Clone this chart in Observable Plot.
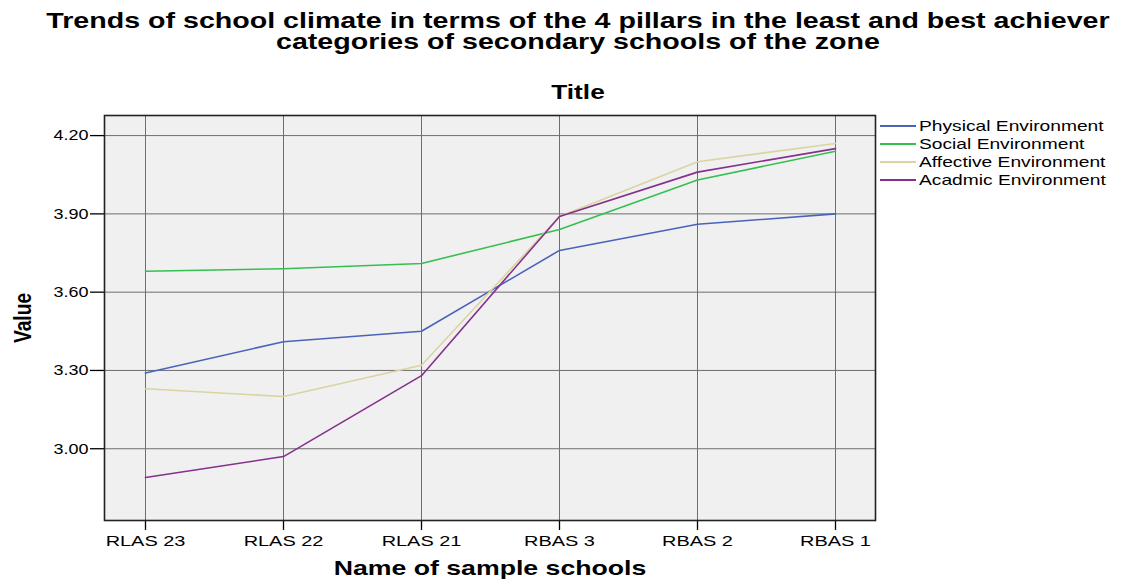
<!DOCTYPE html>
<html>
<head>
<meta charset="utf-8">
<script src="https://cdn.jsdelivr.net/npm/d3@7"></script>
<script src="https://cdn.jsdelivr.net/npm/@observablehq/plot@0.6"></script>
<style>
  html, body { margin: 0; padding: 0; background: #fff; }
  #wrap { position: relative; width: 1124px; height: 580px; overflow: hidden; font-family: "Liberation Sans", Arial, sans-serif; color: #000; }
  .lbl { position: absolute; white-space: nowrap; font-weight: bold; }
  #title1, #title2 { left: 578px; font-size: 22px; line-height: 20px; transform: translate(-50%, -50%) scaleX(1.3); }
  #title1 { top: 21.2px; }
  #title2 { top: 41.7px; }
  #subtitle { left: 578px; top: 92px; font-size: 21px; transform: translate(-50%, -50%) scaleX(1.25); }
  #xlabel { left: 490px; top: 568px; font-size: 21px; line-height: 22px; transform: translate(-50%, -50%) scaleX(1.27); }
  #ylabel { left: 23px; top: 318px; font-size: 24px; transform: translate(-50%, -50%) rotate(-90deg) scaleX(0.8); }
  #chart { position: absolute; left: 0; top: 60px; }
  #legend { position: absolute; left: 880px; top: 117px; font-size: 15px; color: #000; }
  #legend .row { display: flex; align-items: center; height: 17.9px; }
  #legend .sw { width: 36px; height: 2px; margin-right: 3px; }
  #legend .tx { display: inline-block; transform-origin: left center; transform: scaleX(1.28); }
</style>
</head>
<body>
<div id="wrap">
  <div class="lbl" id="title1">Trends of school climate in terms of the 4 pillars in the least and best achiever</div>
  <div class="lbl" id="title2">categories of secondary schools of the zone</div>
  <div class="lbl" id="subtitle">Title</div>
  <div id="chart"></div>
  <div class="lbl" id="xlabel">Name of sample schools</div>
  <div class="lbl" id="ylabel">Value</div>
  <div id="legend"></div>
</div>
<script>
const schools = ["RLAS 23", "RLAS 22", "RLAS 21", "RBAS 3", "RBAS 2", "RBAS 1"];
const seriesNames = ["Physical Environment", "Social Environment", "Affective Environment", "Acadmic Environment"];
const physical  = [3.29, 3.41, 3.45, 3.76, 3.86, 3.90];
const social    = [3.68, 3.69, 3.71, 3.84, 4.03, 4.14];
const affective = [3.23, 3.20, 3.32, 3.89, 4.10, 4.17];
const academic  = [2.89, 2.97, 3.28, 3.89, 4.06, 4.15];
const yTicks = [3.00, 3.30, 3.60, 3.90, 4.20];
const colors = ["#4a63ba", "#35bf50", "#d9d4a2", "#85318b"];

const allSeries = [physical, social, affective, academic];
const data = [];
seriesNames.forEach((name, i) => {
  schools.forEach((s, j) => data.push({series: name, school: s, value: allSeries[i][j]}));
});

const chart = Plot.plot({
  width: 1124,
  height: 520,
  marginLeft: 104,
  marginRight: 249,
  marginTop: 55,
  marginBottom: 60,
  style: {fontFamily: "'Liberation Sans', Arial, sans-serif", fontSize: "15px", color: "#000", background: "transparent", overflow: "visible"},
  x: {type: "point", domain: schools, padding: 0.28, label: null},
  y: {domain: [2.725, 4.277], label: null},
  color: {domain: seriesNames, range: colors},
  marks: [
    Plot.frame({fill: "#f0f0f0"}),
    Plot.ruleY(yTicks, {stroke: "#6e6e6e", strokeWidth: 1}),
    Plot.ruleX(schools, {stroke: "#6e6e6e", strokeWidth: 1}),
    Plot.line(data, {x: "school", y: "value", z: "series", stroke: "series", strokeWidth: 1.6}),
    Plot.axisY({ticks: yTicks, tickFormat: d3.format(".2f"), tickSize: 14, tickPadding: 2, stroke: "#000", strokeWidth: 1.3, label: null, fontSize: 15}),
    Plot.axisX({tickSize: 10, tickPadding: 5, stroke: "#000", strokeWidth: 1.3, label: null, fontSize: 15}),
    Plot.frame({stroke: "#222", strokeWidth: 1.6})
  ]
});
document.getElementById("chart").appendChild(chart);

// horizontally widened tick labels, as in the reference (scale about each label's anchor)
function widen(selector, s) {
  chart.querySelectorAll(selector).forEach(t => {
    const tr = t.getAttribute("transform") || "";
    t.setAttribute("transform", (tr + ` scale(${s},1)`).trim());
  });
}
widen('g[aria-label="x-axis tick label"] text', 1.33);
widen('g[aria-label="y-axis tick label"] text', 1.2);

const legend = document.getElementById("legend");
seriesNames.forEach((name, i) => {
  const row = document.createElement("div");
  row.className = "row";
  const sw = document.createElement("div");
  sw.className = "sw";
  sw.style.background = colors[i];
  const t = document.createElement("span");
  t.className = "tx";
  t.textContent = name;
  row.appendChild(sw);
  row.appendChild(t);
  legend.appendChild(row);
});
</script>
</body>
</html>
